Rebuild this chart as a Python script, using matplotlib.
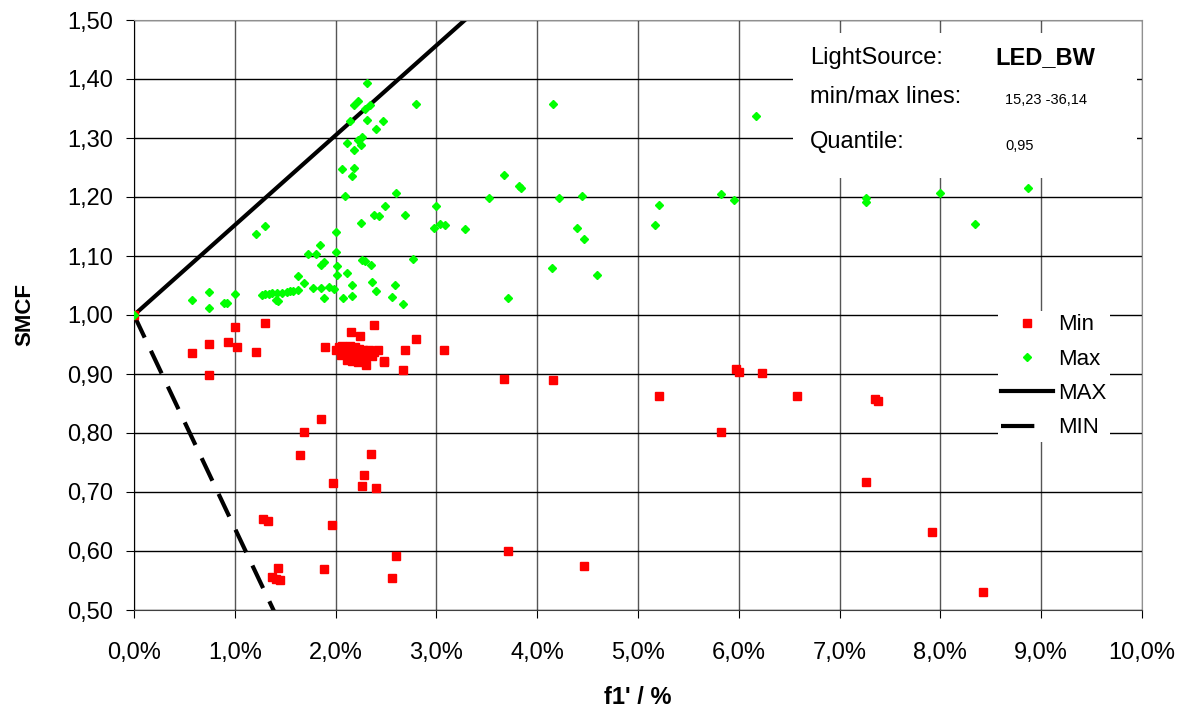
import matplotlib
matplotlib.use("Agg")
import matplotlib.pyplot as plt
from matplotlib.lines import Line2D
from matplotlib.patches import Rectangle
from matplotlib.ticker import FuncFormatter, MultipleLocator
import numpy as np

plt.rcParams['font.family'] = ['Liberation Sans', 'DejaVu Sans']

# f1' in %, SMCF values
min_x = [0.00, 0.58, 0.74, 0.74, 0.93, 1.00, 1.02, 1.21, 1.30, 1.28, 1.33, 1.37, 1.41, 1.43, 1.45,
         1.65, 1.69, 1.86, 1.88, 1.89, 1.96, 1.97, 2.15, 2.24, 2.38, 2.26, 2.28, 2.35, 2.40, 2.56,
         2.60, 2.42, 2.48, 2.48, 2.67, 2.69, 2.80, 3.08,
         2.00, 2.03, 2.06, 2.08, 2.10, 2.12, 2.14, 2.16, 2.18, 2.19, 2.21, 2.23, 2.25, 2.27, 2.29,
         2.31, 2.33, 2.36, 2.11, 2.16, 2.22, 2.30, 2.38, 2.05,
         3.67, 3.71, 4.16, 4.46, 5.21, 5.82, 5.97, 6.00, 6.23, 6.58, 7.26, 7.35, 7.38, 7.92, 8.42]
min_y = [1.000, 0.935, 0.951, 0.898, 0.955, 0.980, 0.946, 0.938, 0.987, 0.654, 0.651, 0.556, 0.553, 0.571, 0.551,
         0.762, 0.801, 0.824, 0.569, 0.945, 0.644, 0.716, 0.971, 0.964, 0.983, 0.710, 0.729, 0.765, 0.706, 0.555,
         0.592, 0.940, 0.920, 0.922, 0.906, 0.941, 0.959, 0.940,
         0.940, 0.945, 0.948, 0.938, 0.944, 0.932, 0.948, 0.940, 0.928, 0.945, 0.936, 0.942, 0.930, 0.940, 0.924,
         0.935, 0.941, 0.930, 0.924, 0.922, 0.920, 0.916, 0.938, 0.932,
         0.892, 0.600, 0.890, 0.574, 0.862, 0.802, 0.908, 0.904, 0.902, 0.863, 0.717, 0.857, 0.855, 0.632, 0.531]

max_x = [0.00, 0.58, 0.74, 0.74, 0.89, 0.92, 1.00, 1.21, 1.30, 1.27, 1.30, 1.34, 1.37, 1.42, 1.47,
         1.52, 1.55, 1.58, 1.63, 1.43, 1.41, 1.63, 1.69, 1.73, 1.81, 1.85, 1.78, 1.86, 1.93, 1.98,
         1.86, 1.88, 1.88, 2.00, 2.00, 2.01, 2.01, 2.11, 2.07, 2.16, 2.16, 2.25, 2.38, 2.43, 2.49,
         2.69, 2.77, 2.26, 2.29, 2.35, 2.36, 2.40, 2.59, 2.56, 2.67, 2.31, 2.18, 2.22, 2.29, 2.34,
         2.80, 2.14, 2.31, 2.47, 2.40, 2.11, 2.22, 2.26, 2.25, 2.18, 2.06, 2.18, 2.16, 2.60, 2.09,
         3.00, 2.98, 3.04, 3.09, 3.28, 3.52, 3.67, 3.82, 3.84, 3.71, 4.16, 4.15, 4.22, 4.44, 4.39,
         4.46, 4.59, 5.17, 5.21, 5.82, 5.95, 6.17, 7.26, 7.26, 8.00, 8.34, 8.87]
max_y = [1.000, 1.025, 1.039, 1.012, 1.021, 1.020, 1.035, 1.138, 1.151, 1.034, 1.035, 1.036, 1.037, 1.038, 1.038,
         1.039, 1.040, 1.041, 1.042, 1.023, 1.025, 1.066, 1.055, 1.104, 1.103, 1.119, 1.045, 1.045, 1.047, 1.044,
         1.085, 1.090, 1.028, 1.141, 1.106, 1.083, 1.067, 1.071, 1.028, 1.051, 1.033, 1.156, 1.169, 1.168, 1.184,
         1.169, 1.095, 1.094, 1.092, 1.084, 1.056, 1.041, 1.051, 1.031, 1.018, 1.393, 1.356, 1.362, 1.349, 1.356,
         1.357, 1.329, 1.331, 1.328, 1.315, 1.292, 1.297, 1.302, 1.288, 1.279, 1.247, 1.250, 1.236, 1.207, 1.202,
         1.184, 1.147, 1.154, 1.153, 1.145, 1.199, 1.238, 1.219, 1.216, 1.029, 1.358, 1.080, 1.199, 1.202, 1.148,
         1.129, 1.068, 1.153, 1.187, 1.205, 1.195, 1.338, 1.198, 1.192, 1.206, 1.154, 1.216]

# min/max line slopes (per unit f1')
slope_max = 15.23
slope_min = -36.14
light_source = "LED_BW"
quantile = "0,95"

fig = plt.figure(figsize=(11.84, 7.17), dpi=100)
ax = fig.add_axes([134 / 1184, 1 - 610 / 717, 1008 / 1184, 590 / 717])

ax.set_xlim(0, 10)
ax.set_ylim(0.5, 1.5)
ax.xaxis.set_major_locator(MultipleLocator(1))
ax.yaxis.set_major_locator(MultipleLocator(0.1))
ax.xaxis.set_major_formatter(FuncFormatter(lambda v, p: f"{v:.1f}%".replace('.', ',')))
ax.yaxis.set_major_formatter(FuncFormatter(lambda v, p: f"{v:.2f}".replace('.', ',')))

ax.set_axisbelow(True)
ax.grid(axis='y', color='black', linewidth=1.0)
ax.grid(axis='x', color='#555555', linewidth=1.0)

for s in ['top', 'right']:
    ax.spines[s].set_color('#909090')
ax.spines['left'].set_color('black')
ax.spines['bottom'].set_color('#404040')

ax.tick_params(axis='y', direction='out', length=6, pad=9, labelsize=17)
ax.tick_params(axis='x', direction='out', length=6, pad=17, labelsize=17)

# white box behind info text
ax.add_patch(Rectangle((0.654, 0.732), 0.341, 0.246, transform=ax.transAxes,
                       facecolor='white', edgecolor='none', zorder=1))

xl = np.array([0, 10])
ax.plot(xl, 1 + slope_max * xl / 100, color='black', linewidth=3, zorder=2)
ax.plot(xl, 1 + slope_min * xl / 100, color='black', linewidth=3, dashes=(6, 3.5), zorder=2)

ax.plot(min_x, min_y, linestyle='none', marker='s', markersize=6, color='#ff0000', zorder=3)
ax.plot(max_x, max_y, linestyle='none', marker='D', markersize=4.3, color='#00ff00', zorder=4)

ax.set_xlabel("f1' / %", fontsize=17, fontweight='bold', labelpad=16)
ax.set_ylabel("SMCF", fontsize=16, fontweight='bold', labelpad=23)

ax.text(0.671, 0.936, "LightSource:", transform=ax.transAxes, fontsize=17, va='center')
ax.text(0.855, 0.936, light_source, transform=ax.transAxes, fontsize=17, fontweight='bold', va='center')
ax.text(0.671, 0.869, "min/max lines:", transform=ax.transAxes, fontsize=17, va='center')
ax.text(0.864, 0.864, f"{slope_max:.2f} {slope_min:.2f}".replace('.', ','), transform=ax.transAxes,
        fontsize=10.5, va='center')
ax.text(0.671, 0.793, "Quantile:", transform=ax.transAxes, fontsize=17, va='center')
ax.text(0.864, 0.786, quantile, transform=ax.transAxes, fontsize=10.5, va='center')

handles = [
    Line2D([], [], linestyle='none', marker='s', markersize=6, color='#ff0000'),
    Line2D([], [], linestyle='none', marker='D', markersize=4.3, color='#00ff00'),
    Line2D([], [], color='black', linewidth=3),
    Line2D([], [], color='black', linewidth=3, dashes=(8, 10)),
]
leg = ax.legend(handles, ["Min", "Max", "MAX", "MIN"], loc='upper left',
                bbox_to_anchor=(987 / 1184, 1 - 300 / 717), bbox_transform=fig.transFigure,
                fontsize=16, frameon=True, fancybox=False, framealpha=1, edgecolor='none',
                labelspacing=0.6, handlelength=2.3, handletextpad=0.25, borderpad=0.15)
leg.set_zorder(5)

fig.savefig("out.png", dpi=100)
